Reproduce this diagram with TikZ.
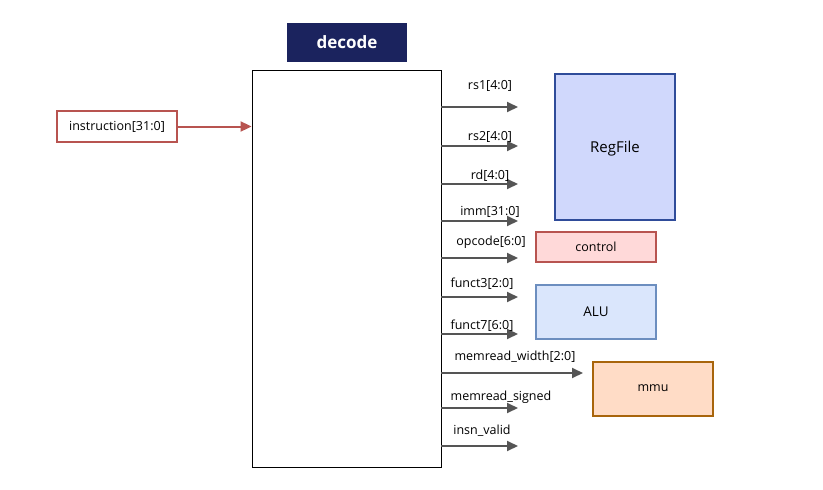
\documentclass[tikz,border=0pt]{standalone}
\usepackage{fontspec}
\setmainfont{Open Sans}
\usepackage{tikz}
\usetikzlibrary{positioning, arrows.meta}

\definecolor{titlenavy}{HTML}{1B235E}
\definecolor{wirered}{HTML}{B85450}
\definecolor{wiregray}{HTML}{555555}
\definecolor{regfill}{HTML}{D0D8FC}
\definecolor{regdraw}{HTML}{2F4C9A}
\definecolor{ctrlfill}{HTML}{FFD9D9}
\definecolor{alufill}{HTML}{DAE6FC}
\definecolor{aludraw}{HTML}{6C8EBF}
\definecolor{mmufill}{HTML}{FFDCC6}
\definecolor{mmudraw}{HTML}{A8650C}

\begin{document}
\begin{tikzpicture}[%
    x=1pt, y=-1pt,
    every node/.style={
        font=\fontsize{12.5}{15}\selectfont,
        text depth=.25ex,
    },
    unitbox/.style={draw, line width=1.5pt, minimum width=120pt},
    outwire/.style={line width=2pt, draw=wiregray,
        -{Triangle[length=11pt, width=10pt]}},
]

% fix the page size
\useasboundingbox[fill=white] (0,0) rectangle (823,490);

% draw the decode block and its title
\node[fill=titlenavy, text=white, font=\fontsize{17}{20}\selectfont\bfseries,
      minimum width=120pt, minimum height=39pt] (title) at (347,42.5) {decode};
\node[draw, line width=0.9pt, minimum width=189pt, minimum height=397pt] (dec) at (346.5,268.5) {};

% input
\node[unitbox, draw=wirered, minimum height=31pt] (instr) at (117,126.5) {instruction[31:0]};
\draw[line width=2pt, draw=wirered, -{Triangle[length=11pt, width=10pt]}]
    (instr.east) -- (instr.east -| dec.west);

% units on the right
\node[unitbox, draw=regdraw, fill=regfill, minimum height=146pt,
      font=\fontsize{15}{18}\selectfont] (regfile) at (615,147) {RegFile};
\node[unitbox, draw=wirered, fill=ctrlfill, minimum height=30pt] (control) at (596,247) {control};
\node[unitbox, draw=aludraw, fill=alufill, minimum height=54pt,
      font=\fontsize{13.5}{16}\selectfont] (alu) at (596,312) {ALU};
\node[unitbox, draw=mmudraw, fill=mmufill, minimum height=54pt] (mmu) at (653,389) {mmu};

% output wires
\foreach \i/\y/\xe/\lx/\ly/\txt in {
    1/107/518/490/86/{rs1[4:0]},
    2/146/518/490/137/{rs2[4:0]},
    3/184/518/490/175/{rd[4:0]},
    4/221/518/490/212/{imm[31:0]},
    5/258/518/491/241/{opcode[6:0]},
    6/297/518/482/283/{funct3[2:0]},
    7/334/518/482/325/{funct7[6:0]},
    8/373/583/515/356/{memread\_width[2:0]},
    9/408/518/501/396/{memread\_signed},
    10/446/518/482/430/{insn\_valid}}{
    \coordinate (o\i) at (dec.east |- 0,\y);
    \coordinate (e\i) at (\xe,\y);
    \draw[outwire] (o\i) -- (e\i);
    \node (l\i) at (\lx,\ly) {\txt};
}

\end{tikzpicture}
\end{document}
